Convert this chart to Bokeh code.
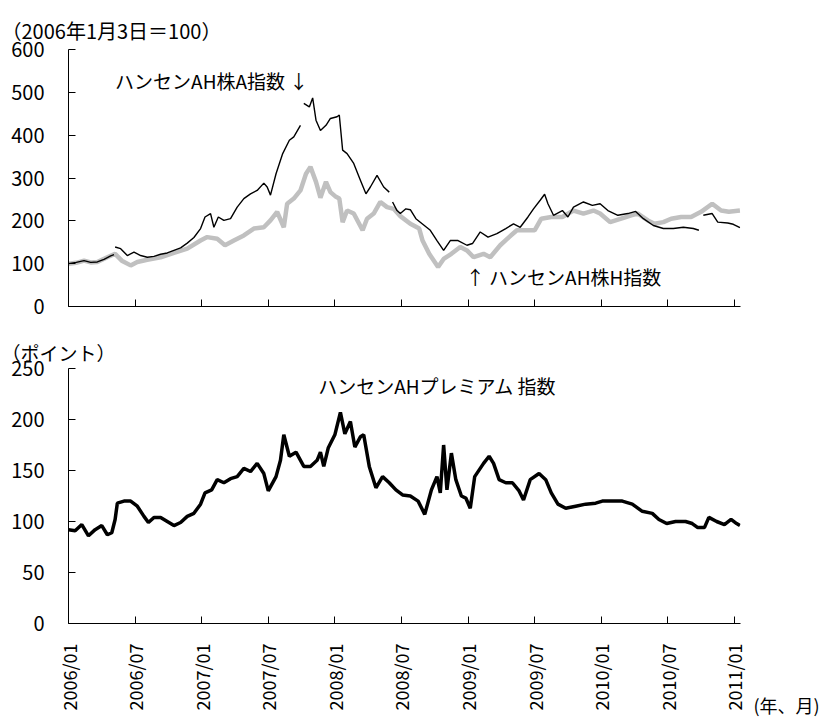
import math
from bokeh.plotting import figure
from bokeh.layouts import column, row
from bokeh.models import FixedTicker, Label, Range1d
from bokeh.embed import file_html
from bokeh.resources import INLINE

nan = float("nan")

# x = months elapsed since 2006/01
tick_months = [0, 6, 12, 18, 24, 30, 36, 42, 48, 54, 60]
tick_labels = ["2006/01", "2006/07", "2007/01", "2007/07", "2008/01", "2008/07",
               "2009/01", "2009/07", "2010/01", "2010/07", "2011/01"]

# Hang Seng AH A-share index (2006/1/3 = 100); nan = break in the line
a_month = [0.0, 0.7, 1.4, 2.0, 2.6, 3.2, 3.8, 4.1, 4.15, 4.2, 4.7, 5.3, 5.9, 6.5, 7.1, 7.7,
           8.3, 8.9, 9.5, 10.1, 10.7, 11.3, 11.9, 12.3, 12.8, 13.1, 13.5, 14.0, 14.6, 15.2,
           15.8, 16.4, 17.0, 17.6, 17.9, 18.2, 18.7, 19.3, 19.9, 20.3, 20.9, 21.0, 21.2,
           21.7, 22.0, 22.3, 22.7, 23.2, 23.6, 24.2, 24.4, 24.7, 25.1, 25.7, 26.3, 26.8,
           27.2, 27.8, 28.4, 28.9, 29.0, 29.2, 29.6, 29.9, 30.4, 30.8, 31.3, 32.6, 33.2,
           33.8, 34.4, 35.1, 35.9, 36.4, 37.1, 37.8, 38.6, 39.4, 40.1, 40.7, 41.4, 41.9,
           42.5, 42.9, 43.2, 43.7, 44.5, 45.0, 45.5, 46.4, 47.2, 47.9, 48.6, 49.5, 50.4,
           51.1, 51.8, 52.7, 53.6, 54.5, 55.4, 56.3, 56.8, 56.9, 57.2, 58.0, 58.5, 59.4,
           59.9, 60.5]
a_val = [100, 103, 107, 103, 104, 110, 118, 121, nan, 139, 135, 119, 127, 119, 115, 117,
         122, 125, 131, 137, 148, 161, 182, 209, 217, 185, 209, 201, 205, 232,
         252, 263, 271, 288, 279, 260, 310, 357, 388, 396, 423, nan, 474,
         466, 487, 435, 411, 423, 439, 443, 447, 365, 357, 334, 295, 263,
         279, 306, 279, 267, nan, 244, 224, 217, 228, 226, 205, 178, 154,
         131, 154, 154, 143, 147, 174, 162, 170, 182, 193, 185, 209, 228,
         248, 262, 240, 213, 224, 209, 232, 244, 236, 240, 224, 213, 217,
         222, 205, 189, 182, 182, 185, 182, 178, nan, 213, 217, 197, 195,
         192, 184]

# Hang Seng AH H-share index (2006/1/3 = 100)
h_month = [0.0, 0.7, 1.4, 2.0, 2.6, 3.5, 4.2, 4.8, 5.6, 6.2, 7.1, 8.3, 9.5, 10.7, 11.9,
           12.5, 13.4, 14.1, 14.9, 15.8, 16.7, 17.6, 18.2, 18.8, 19.4, 19.7, 20.3, 20.9,
           21.4, 21.8, 22.3, 22.7, 23.2, 23.6, 24.1, 24.4, 24.7, 25.1, 25.7, 26.5, 26.9,
           27.5, 28.1, 28.7, 29.3, 29.9, 30.8, 31.6, 31.9, 32.5, 33.3, 33.8, 34.5, 35.3,
           35.9, 36.5, 37.4, 38.0, 38.9, 39.7, 40.4, 41.4, 42.0, 42.6, 43.5, 44.5, 45.5,
           46.4, 47.3, 47.9, 48.8, 49.8, 50.7, 51.3, 52.2, 52.8, 53.6, 54.3, 55.2, 56.1,
           57.0, 58.0, 58.8, 59.5, 60.5]
h_val = [100, 102, 107, 103, 104, 115, 123, 107, 96, 104, 109, 115, 125, 135, 154,
         162, 158, 143, 154, 166, 182, 185, 201, 221, 185, 240, 252, 271,
         310, 326, 291, 254, 291, 267, 256, 252, 197, 224, 217, 178, 205,
         217, 244, 232, 228, 211, 193, 182, 154, 123, 92, 111, 123, 139,
         131, 115, 123, 115, 143, 162, 178, 178, 178, 205, 209, 209, 224,
         217, 224, 217, 197, 205, 213, 217, 201, 193, 197, 205, 209, 209,
         221, 240, 224, 221, 224]

# Hang Seng AH premium index (points)
p_month = [0.0, 0.6, 1.2, 1.8, 2.4, 3.0, 3.5, 3.9, 4.2, 4.4, 5.0, 5.6, 6.2, 6.8, 7.2, 7.7,
           8.3, 8.9, 9.5, 10.1, 10.7, 11.3, 11.9, 12.3, 12.9, 13.4, 14.0, 14.6, 15.2, 15.8,
           16.4, 17.0, 17.6, 18.0, 18.7, 19.1, 19.4, 19.9, 20.5, 21.2, 21.8, 22.4, 22.7,
           23.0, 23.4, 24.0, 24.5, 24.9, 25.4, 25.8, 26.3, 26.6, 27.1, 27.7, 28.3, 28.9,
           29.5, 30.1, 30.8, 31.5, 32.1, 32.7, 33.2, 33.5, 33.8, 34.1, 34.5, 34.9, 35.4,
           35.8, 36.2, 36.6, 37.4, 37.9, 38.3, 38.8, 39.4, 40.0, 40.6, 41.0, 41.6, 42.4,
           43.0, 43.5, 44.1, 44.8, 45.7, 46.6, 47.5, 48.1, 49.0, 49.9, 50.8, 51.7, 52.6,
           53.2, 53.9, 54.7, 55.6, 56.2, 56.7, 57.3, 57.7, 58.4, 59.1, 59.7, 60.2, 60.5]
p_val = [92, 91, 97, 86, 92, 96, 87, 89, 102, 118, 120, 120, 115, 105, 99, 104,
         104, 100, 96, 99, 105, 108, 117, 128, 131, 141, 138, 142, 144, 152,
         149, 157, 147, 130, 144, 160, 185, 164, 168, 154, 154, 160, 168,
         154, 172, 185, 207, 186, 198, 173, 183, 185, 154, 133, 144, 138,
         131, 126, 125, 120, 107, 131, 144, 128, 175, 131, 167, 141, 125,
         123, 113, 144, 157, 164, 157, 141, 138, 138, 130, 121, 141, 147,
         141, 128, 117, 113, 115, 117, 118, 120, 120, 120, 117, 110, 108,
         102, 98, 100, 100, 98, 94, 94, 104, 100, 97, 102, 98, 96]

top_ticks = [0, 100, 200, 300, 400, 500, 600]
bottom_ticks = [0, 50, 100, 150, 200, 250]

FONT = "Noto Sans CJK JP"
X_RANGE = (0, 60.55)


def style(p, yticks):
    p.outline_line_color = None
    p.xgrid.visible = False
    p.ygrid.visible = False
    p.background_fill_color = "white"
    p.border_fill_color = "white"
    for ax in (p.xaxis[0], p.yaxis[0]):
        ax.axis_line_color = "black"
        ax.axis_line_width = 1
        ax.major_tick_line_color = "black"
        ax.major_tick_in = 7
        ax.major_tick_out = 0
        ax.minor_tick_line_color = None
        ax.major_label_text_font = FONT
        ax.major_label_text_color = "black"
    p.yaxis[0].ticker = FixedTicker(ticks=yticks)
    p.yaxis[0].major_label_text_font_size = "20px"
    p.yaxis[0].major_label_standoff = 24
    p.xaxis[0].ticker = FixedTicker(ticks=tick_months)
    p.title.text_font = FONT
    p.title.text_font_style = "normal"
    p.title.text_color = "black"
    p.title.align = "left"
    p.title.offset = -67


p1 = figure(width=820, height=322, output_backend="svg", toolbar_location=None,
            x_range=Range1d(*X_RANGE), y_range=Range1d(0, 600),
            min_border_left=68, min_border_right=80, min_border_top=49, min_border_bottom=16,
            title="（2006年1月3日＝100）")
style(p1, top_ticks)
p1.title.text_font_size = "20px"
p1.title.standoff = 10
p1.xaxis[0].major_label_overrides = {m: "" for m in tick_months}
p1.xaxis[0].major_label_standoff = 0

p1.line(h_month, h_val, line_color="#c0c0c0", line_width=4.5)
p1.line(a_month, a_val, line_color="black", line_width=1.4)

p1.add_layout(Label(x=4.2, y=528, text="ハンセンAH株A指数 ↓", text_font=FONT,
                    text_font_size="19px", text_color="black", text_baseline="middle"))
p1.add_layout(Label(x=35.8, y=70, text="↑ ハンセンAH株H指数", text_font=FONT,
                    text_font_size="19px", text_color="black", text_baseline="middle"))

p2 = figure(width=752, height=398, output_backend="svg", toolbar_location=None,
            x_range=Range1d(*X_RANGE), y_range=Range1d(0, 250),
            min_border_left=68, min_border_right=12, min_border_top=46, min_border_bottom=95,
            title="（ポイント）")
style(p2, bottom_ticks)
p2.title.text_font_size = "19px"
p2.title.standoff = 6
p2.xaxis[0].major_label_overrides = {m: lab for m, lab in zip(tick_months, tick_labels)}
p2.xaxis[0].major_label_orientation = math.pi / 2
p2.xaxis[0].major_label_text_font_size = "18px"
p2.xaxis[0].major_label_standoff = 20

p2.line(p_month, p_val, line_color="black", line_width=3.5)

p2.add_layout(Label(x=22.5, y=233, text="ハンセンAHプレミアム 指数", text_font=FONT,
                    text_font_size="19px", text_color="black", text_baseline="middle"))

# x-axis unit caption at the lower right: an empty axis that only carries its label
p3 = figure(width=68, height=398, output_backend="svg", toolbar_location=None,
            x_range=Range1d(0, 1), y_range=Range1d(0, 1), y_axis_type=None,
            min_border_left=0, min_border_right=0, min_border_top=46, min_border_bottom=95)
p3.outline_line_color = None
p3.xgrid.visible = False
p3.border_fill_color = "white"
ax3 = p3.xaxis[0]
ax3.ticker = FixedTicker(ticks=[])
ax3.axis_line_color = None
ax3.major_tick_line_color = None
ax3.minor_tick_line_color = None
ax3.axis_label = "(年、月)"
ax3.axis_label_text_font = FONT
ax3.axis_label_text_font_style = "normal"
ax3.axis_label_text_font_size = "18px"
ax3.axis_label_text_color = "black"
ax3.axis_label_standoff = 68

layout = column(p1, row(p2, p3, spacing=0), spacing=0)
open("out.html", "w").write(file_html(layout, INLINE))
